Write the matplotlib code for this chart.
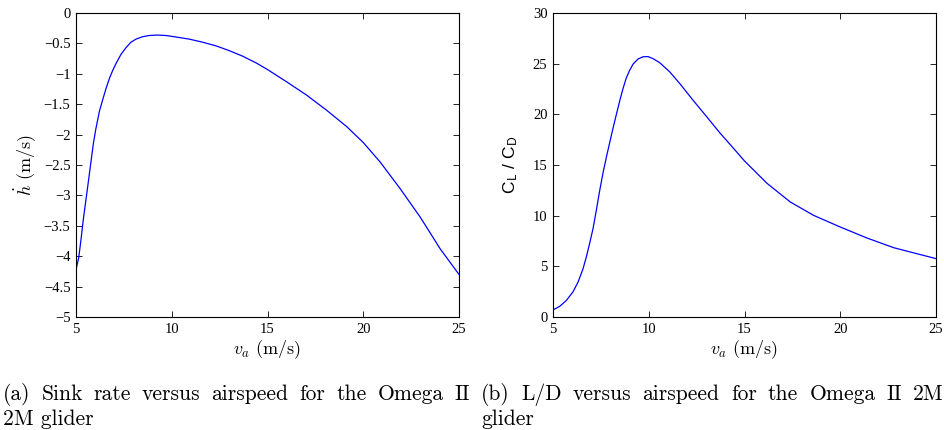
import matplotlib
matplotlib.use('Agg')
import matplotlib.pyplot as plt

plt.rcParams['mathtext.fontset'] = 'cm'
plt.rcParams['font.family'] = 'Liberation Serif'

# sink rate curve
va_sink = [5.0, 5.14, 5.26, 5.38, 5.52, 5.66, 5.78, 5.91, 6.04, 6.22, 6.39, 6.57,
           6.74, 6.91, 7.09, 7.35, 7.61, 7.87, 8.13, 8.48, 8.83, 9.26, 9.70, 10.22,
           10.92, 11.61, 12.31, 13.01, 13.70, 14.40, 15.0, 15.99, 17.04, 18.09,
           19.14, 20.0, 20.88, 21.93, 22.98, 24.02, 25.0]
hdot = [-4.22, -4.03, -3.73, -3.40, -3.07, -2.74, -2.45, -2.14, -1.90, -1.62, -1.43, -1.24,
        -1.08, -0.95, -0.83, -0.68, -0.57, -0.48, -0.43, -0.39, -0.37, -0.363, -0.37, -0.395,
        -0.43, -0.48, -0.54, -0.62, -0.71, -0.82, -0.93, -1.13, -1.35, -1.60,
        -1.87, -2.13, -2.45, -2.89, -3.36, -3.88, -4.30]

# L/D curve
va_ld = [5.0, 5.35, 5.70, 6.04, 6.31, 6.57, 6.74, 6.91, 7.09, 7.26, 7.44, 7.61,
         7.79, 7.96, 8.13, 8.31, 8.48, 8.65, 8.82, 8.99, 9.18, 9.44, 9.70, 9.96,
         10.22, 10.57, 11.09, 11.61, 12.31, 13.01, 13.70, 14.40, 15.0, 16.17,
         17.39, 18.61, 20.0, 21.39, 22.79, 25.0]
ld = [0.70, 1.05, 1.64, 2.47, 3.45, 4.77, 5.92, 7.24, 8.72, 10.5, 12.5, 14.2,
      15.8, 17.2, 18.6, 20.0, 21.3, 22.5, 23.55, 24.3, 24.95, 25.46, 25.68, 25.7,
      25.5, 25.1, 24.2, 23.06, 21.4, 19.8, 18.2, 16.7, 15.4, 13.2,
      11.35, 10.03, 8.88, 7.8, 6.84, 5.76]

x_ticks = [5, 10, 15, 20, 25]
sink_ticks = [0, -0.5, -1, -1.5, -2, -2.5, -3, -3.5, -4, -4.5, -5]
ld_ticks = [0, 5, 10, 15, 20, 25, 30]

captions = [["(a) Sink rate versus airspeed for the Omega II", "2M glider"],
            ["(b) L/D versus airspeed for the Omega II 2M", "glider"]]

W, H = 945, 430
fig = plt.figure(figsize=(W / 100, H / 100), dpi=100)
ax1 = fig.add_axes([76 / W, 1 - 317 / H, 383 / W, 304 / H])
ax2 = fig.add_axes([553 / W, 1 - 317 / H, 383 / W, 304 / H])


def style(ax):
    ax.tick_params(direction='in', top=True, right=True, length=4, width=0.6,
                   labelsize=10.5, pad=4)
    for s in ax.spines.values():
        s.set_linewidth(0.8)
    ax.set_xlim(5, 25)
    ax.set_xticks(x_ticks)
    ax.set_xticklabels([str(t) for t in x_ticks])
    ax.set_xlabel(r'$v_a$ (m/s)', fontsize=13, family='cmr10', labelpad=2)


ax1.plot(va_sink, hdot, color='blue', lw=0.9)
style(ax1)
ax1.set_ylim(-5, 0)
ax1.set_yticks(sink_ticks)
ax1.set_yticklabels(['%g' % t if t == 0 else '\u2212%g' % -t for t in sink_ticks])
ax1.set_ylabel(r'$\dot{h}$ (m/s)', fontsize=13, family='cmr10', labelpad=4)

ax2.plot(va_ld, ld, color='blue', lw=0.9)
style(ax2)
ax2.set_ylim(0, 30)
ax2.set_yticks(ld_ticks)
ax2.set_yticklabels([str(t) for t in ld_ticks])
ax2.set_ylabel(r'C$_\mathsf{L}$ / C$_\mathsf{D}$', fontsize=12.5, family='Liberation Sans',
               labelpad=9)

# captions, first line justified like the LaTeX subcaption
renderer = fig.canvas.get_renderer()
cap_size = 15.5
for x0, x1, lines in zip([3, 481], [470, 944], captions):
    words = lines[0].split(' ')
    texts = [fig.text(0, 0, w, family='cmr10', fontsize=cap_size) for w in words]
    widths = [t.get_window_extent(renderer).width for t in texts]
    gap = (x1 - x0 - sum(widths)) / (len(words) - 1)
    xp = x0
    for t, w in zip(texts, widths):
        t.set_position((xp / W, 1 - 400 / H))
        t.set_va('baseline')
        xp += w + gap
    fig.text(x0 / W, 1 - 425 / H, lines[1], family='cmr10', fontsize=cap_size, va='baseline')

fig.savefig('out.png', dpi=100)
